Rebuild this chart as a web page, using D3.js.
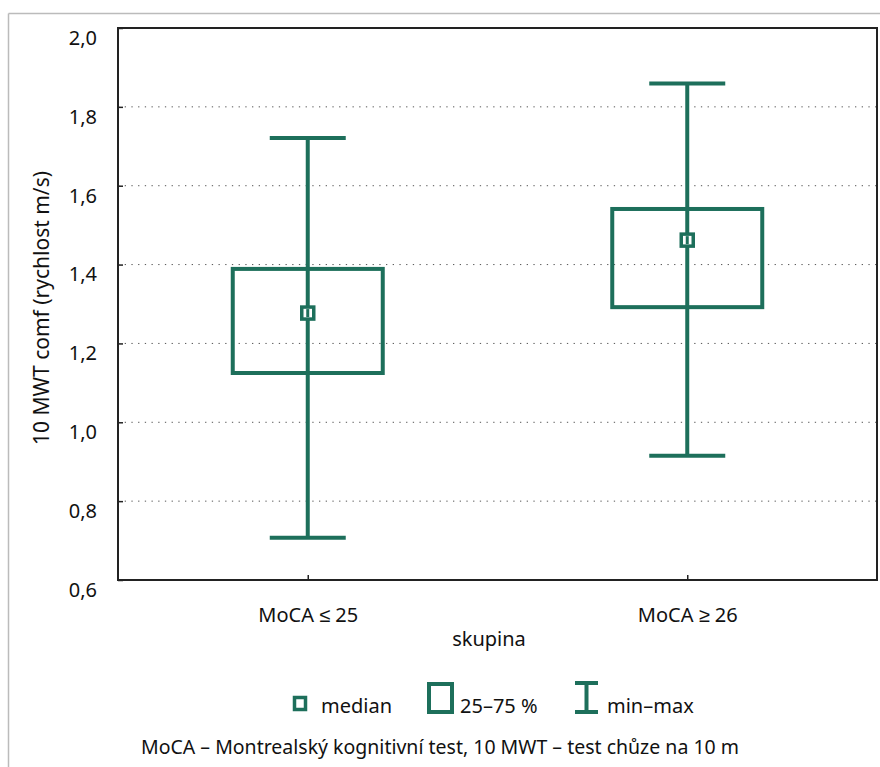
<!DOCTYPE html>
<html><head><meta charset="utf-8">
<script src="https://cdn.jsdelivr.net/npm/d3@7"></script>
<style>body{margin:0;background:#fff}svg{display:block}text{font-family:"Noto Sans",sans-serif;fill:#111}</style>
</head><body><svg id="c" width="880" height="767"></svg>
<script>
const categories = ["MoCA ≤ 25", "MoCA ≥ 26"];
const minVals = [0.707, 0.915];
const q1Vals = [1.125, 1.292];
const medianVals = [1.277, 1.462];
const q3Vals = [1.389, 1.541];
const maxVals = [1.721, 1.859];
const yTicks = [0.6, 0.8, 1.0, 1.2, 1.4, 1.6, 1.8, 2.0];
const legendLabels = ["median", "25–75 %", "min–max"];
const yLabel = "10 MWT comf (rychlost m/s)";
const xLabel = "skupina";
const footer = "MoCA – Montrealský kognitivní test, 10 MWT – test chůze na 10 m";

const green = "#1d6f5b";
const fs = "19.5px";
const svg = d3.select("#c");
const L = 118, R = 877, T = 28, B = 580;
const x = d3.scalePoint().domain(categories).range([L, R]).padding(0.5);
const y = d3.scaleLinear().domain([0.6, 2.0]).range([B, T]);

// outer frame
svg.append("line").attr("x1", 8.5).attr("x2", 880).attr("y1", 13.5).attr("y2", 13.5).attr("stroke", "#bbb").attr("stroke-width", 1.5);
svg.append("line").attr("x1", 8.5).attr("x2", 8.5).attr("y1", 13.5).attr("y2", 767).attr("stroke", "#bbb").attr("stroke-width", 1.5);

// grid
svg.append("g").selectAll("line").data(yTicks.filter(d => d > 0.6 && d < 2.0)).join("line")
  .attr("x1", L).attr("x2", R).attr("y1", d => y(d)).attr("y2", d => y(d))
  .attr("stroke", "#555").attr("stroke-width", 1).attr("stroke-dasharray", "1.3,5.4");

// axes
const yAxis = svg.append("g").attr("transform", `translate(${L},0)`)
  .call(d3.axisLeft(y).tickValues(yTicks).tickSize(-5).tickPadding(21).tickFormat(d => d3.format(".1f")(d).replace(".", ",")));
yAxis.select(".domain").remove();
yAxis.selectAll("line").attr("stroke", "#222").attr("stroke-width", 1.5);
yAxis.selectAll("text").style("font-size", "20px").attr("fill", "#111").attr("font-family", null).attr("y", 10);

const xAxis = svg.append("g").attr("transform", `translate(0,${B})`)
  .call(d3.axisBottom(x).tickSize(-5).tickPadding(28));
xAxis.select(".domain").remove();
xAxis.selectAll("line").attr("stroke", "#222").attr("stroke-width", 1.5);
xAxis.selectAll("text").style("font-size", "20px").attr("fill", "#111").attr("font-family", null);

svg.append("rect").attr("x", L).attr("y", T).attr("width", R - L).attr("height", B - T)
  .attr("fill", "none").attr("stroke", "#222").attr("stroke-width", 2);

// boxes
const boxW = 150, capW = 76, sw = 4;
const g = svg.append("g").selectAll("g").data(categories).join("g");
g.append("line").attr("x1", d => x(d)).attr("x2", d => x(d))
  .attr("y1", (d, i) => y(minVals[i])).attr("y2", (d, i) => y(maxVals[i])).attr("stroke", green).attr("stroke-width", sw);
g.append("line").attr("x1", d => x(d) - capW / 2).attr("x2", d => x(d) + capW / 2)
  .attr("y1", (d, i) => y(maxVals[i])).attr("y2", (d, i) => y(maxVals[i])).attr("stroke", green).attr("stroke-width", sw);
g.append("line").attr("x1", d => x(d) - capW / 2).attr("x2", d => x(d) + capW / 2)
  .attr("y1", (d, i) => y(minVals[i])).attr("y2", (d, i) => y(minVals[i])).attr("stroke", green).attr("stroke-width", sw);
g.append("rect").attr("x", d => x(d) - boxW / 2).attr("width", boxW)
  .attr("y", (d, i) => y(q3Vals[i])).attr("height", (d, i) => y(q1Vals[i]) - y(q3Vals[i]))
  .attr("fill", "none").attr("stroke", green).attr("stroke-width", sw);
g.append("rect").attr("x", d => x(d) - 6).attr("width", 12)
  .attr("y", (d, i) => y(medianVals[i]) - 6).attr("height", 12)
  .attr("fill", "#fff").attr("stroke", green).attr("stroke-width", 3.5);
g.append("line").attr("x1", d => x(d)).attr("x2", d => x(d))
  .attr("y1", (d, i) => y(medianVals[i]) - 4).attr("y2", (d, i) => y(medianVals[i]) + 4).attr("stroke", green).attr("stroke-width", 3);

// axis titles
svg.append("text").attr("transform", `translate(49,${308}) rotate(-90)`).attr("text-anchor", "middle")
  .style("font-size", "21px").text(yLabel);
svg.append("text").attr("x", 489).attr("y", 646).attr("text-anchor", "middle").style("font-size", "20px").text(xLabel);

// legend
const lg = svg.append("g");
lg.append("rect").attr("x", 294.5).attr("y", 697.5).attr("width", 11).attr("height", 12).attr("fill", "#fff").attr("stroke", green).attr("stroke-width", 3.5);
lg.append("text").attr("x", 321).attr("y", 713).style("font-size", "20px").text(legendLabels[0]);
lg.append("rect").attr("x", 429).attr("y", 684).attr("width", 23).attr("height", 28).attr("fill", "none").attr("stroke", green).attr("stroke-width", 4);
lg.append("text").attr("x", 460).attr("y", 713).style("font-size", "20px").text(legendLabels[1]);
lg.append("line").attr("x1", 586.5).attr("x2", 586.5).attr("y1", 683).attr("y2", 712).attr("stroke", green).attr("stroke-width", 4);
lg.append("line").attr("x1", 575).attr("x2", 598).attr("y1", 683).attr("y2", 683).attr("stroke", green).attr("stroke-width", 4);
lg.append("line").attr("x1", 575).attr("x2", 598).attr("y1", 712).attr("y2", 712).attr("stroke", green).attr("stroke-width", 4);
lg.append("text").attr("x", 607).attr("y", 713).style("font-size", "20px").text(legendLabels[2]);

svg.append("text").attr("x", 440).attr("y", 754).attr("text-anchor", "middle").style("font-size", fs).text(footer);
</script></body></html>
